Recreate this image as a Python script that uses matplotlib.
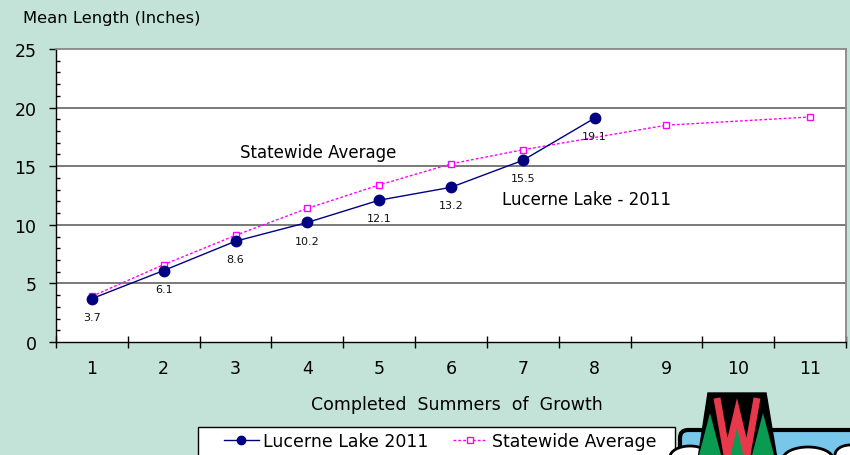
import matplotlib
matplotlib.use("Agg")
import matplotlib.pyplot as plt
from matplotlib.patches import Polygon, Ellipse, FancyBboxPatch, Rectangle
from matplotlib.ticker import MultipleLocator, FixedLocator
from matplotlib.lines import Line2D

plt.rcParams['font.family'] = ['DejaVu Sans']

# ---- data ----
categories = [1, 2, 3, 4, 5, 6, 7, 8, 9, 10, 11]
lucerne_x = [1, 2, 3, 4, 5, 6, 7, 8]
lucerne_y = [3.7, 6.1, 8.6, 10.2, 12.1, 13.2, 15.5, 19.1]
state_x = [1, 2, 3, 4, 5, 6, 7, 9, 11]
state_y = [3.9, 6.6, 9.1, 11.4, 13.4, 15.2, 16.4, 18.5, 19.2]
y_ticks = [0, 5, 10, 15, 20, 25]

BG = '#c3e3d9'
W, H = 850, 456
fig = plt.figure(figsize=(W / 100, H / 100), dpi=100, facecolor=BG)

L, R, T, B = 56, 846, 50, 343
ax = fig.add_axes([L / W, 1 - B / H, (R - L) / W, (B - T) / H])
ax.set_facecolor('white')
ax.set_xlim(0.5, 11.5)
ax.set_ylim(0, 25)

# grid
for yv in y_ticks[1:-1]:
    ax.axhline(yv, color='#555555', lw=1.1, zorder=1)

ax.plot(state_x, state_y, color='#ff00ff', lw=1.0, ls=(0, (2, 1.5)),
        marker='s', ms=5, mfc='white', mec='#ff00ff', mew=1.0, zorder=3)
ax.plot(lucerne_x, lucerne_y, color='#000080', lw=1.0,
        marker='o', ms=7.5, mfc='#000080', mec='#000080', zorder=4)

for xv, yv in zip(lucerne_x, lucerne_y):
    ax.annotate(f'{yv:.1f}', (xv, yv), xytext=(0, -13), textcoords='offset points',
                ha='center', va='center', fontsize=8, color='#111111', zorder=5)

ax.text(4.15, 16.25, 'Statewide Average', ha='center', va='center', fontsize=12)
ax.text(7.89, 12.2, 'Lucerne Lake - 2011', ha='center', va='center', fontsize=12)

# spines
for s in ['left', 'bottom']:
    ax.spines[s].set_color('black')
    ax.spines[s].set_linewidth(1.0)
for s in ['top', 'right']:
    ax.spines[s].set_color('#888888')
    ax.spines[s].set_linewidth(1.3)

ax.set_yticks(y_ticks)
ax.yaxis.set_minor_locator(MultipleLocator(1))
ax.tick_params(axis='y', which='major', direction='out', length=5, width=1,
               labelsize=12.5, pad=9)
ax.tick_params(axis='y', which='minor', direction='in', length=3, width=1)

ax.set_xticks(categories)
ax.set_xticklabels([str(c) for c in categories])
ax.xaxis.set_minor_locator(FixedLocator([c - 0.5 for c in categories] + [11.5]))
ax.tick_params(axis='x', which='major', length=0, labelsize=12.5, pad=12.5)
ax.tick_params(axis='x', which='minor', direction='inout', length=9, width=1)

fig.text(23 / W, 1 - 18 / H, 'Mean Length (Inches)', ha='left', va='center', fontsize=11.8)
fig.text(457 / W, 1 - 405 / H, 'Completed  Summers  of  Growth', ha='center', va='center',
         fontsize=12.5)

# ---- overlay for legend frame and logo ----
ov = fig.add_axes([0, 0, 1, 1], zorder=10)
ov.set_xlim(0, W)
ov.set_ylim(H, 0)
ov.axis('off')
ov.patch.set_alpha(0)

ov.add_patch(Rectangle((198, 428), 477, 40, fc='white', ec='black', lw=1.0))

handles = [
    Line2D([], [], color='#000080', lw=1.0, marker='o', ms=6, mfc='#000080', mec='#000080'),
    Line2D([], [], color='#ff00ff', lw=1.0, ls=(0, (2, 1.5)), marker='s', ms=5,
           mfc='white', mec='#ff00ff'),
]
leg = fig.legend(handles, ['Lucerne Lake 2011', 'Statewide Average'],
                 loc='upper left', bbox_to_anchor=(224 / W, 1 - 433 / H), ncol=2,
                 frameon=False, fontsize=12.5, borderpad=0, handlelength=2.0,
                 handletextpad=0.25, columnspacing=1.4, borderaxespad=0)
leg.set_zorder(20)

band = FancyBboxPatch((680, 431), 190, 40, boxstyle='round,pad=0,rounding_size=8',
                      fc='#78c6ea', ec='black', lw=3)
ov.add_patch(band)
for cx, cy, w, h in [(690, 458, 40, 22), (808, 460, 50, 24), (850, 456, 30, 20)]:
    ov.add_patch(Ellipse((cx, cy), w, h, fc='white', ec='black', lw=2))
ov.add_patch(Polygon([(708, 394), (766, 394), (777, 460), (698, 460)], closed=True,
                     fc='black', ec='black'))
for tx, ty in [(710, 414), (737, 420), (763, 414)]:
    ov.add_patch(Polygon([(tx - 12, 460), (tx, ty), (tx + 12, 460)], closed=True,
                         fc='#0b9a52', ec='none'))
ov.plot([717, 727, 737, 747, 757], [399, 456, 414, 456, 399], color='#e8384b', lw=5.0,
        solid_joinstyle='miter', solid_capstyle='butt')

fig.savefig('out.png', dpi=100, facecolor=BG)
